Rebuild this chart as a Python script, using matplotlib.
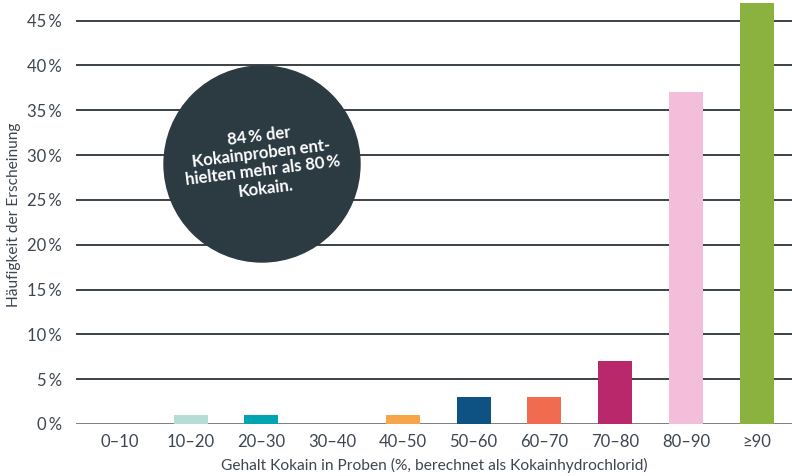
import matplotlib
matplotlib.use("Agg")
import matplotlib.pyplot as plt
from matplotlib.patches import Ellipse
import numpy as np

plt.rcParams['font.family'] = ['Lato', 'DejaVu Sans']

# Daten
categories = ["0–10", "10–20", "20–30", "30–40", "40–50",
              "50–60", "60–70", "70–80", "80–90", "≥90"]
values = [0, 1, 1, 0, 1, 3, 3, 7, 37, 47]
colors = ["#b3ddd5", "#b3ddd5", "#00a3b0", "#f6a54b", "#f6a54b",
          "#0d5282", "#f06b4f", "#b8286a", "#f2bed9", "#8bb23f"]
yticks = [0, 5, 10, 15, 20, 25, 30, 35, 40, 45]

text_col = "#3d4650"
grid_col = "#3a4148"

fig = plt.figure(figsize=(7.92, 4.76), dpi=100)
ax = fig.add_axes([76 / 792, 1 - 424 / 476, 1 - 76 / 792, 424 / 476])

x = np.arange(len(categories))
for yt in yticks:
    ax.axhline(yt, color=grid_col if yt > 0 else "#7a8086", lw=1.4, zorder=1)
ax.bar(x, values, width=0.48, color=colors, zorder=2)

ax.set_xlim(-0.62, 9.5)
ax.set_ylim(0, 47.3)
ax.set_yticks(yticks)
ax.set_yticklabels([f"{v}\u2009%" for v in yticks])
ax.set_xticks(x)
ax.set_xticklabels(categories)
ax.tick_params(length=0, labelsize=12, colors=text_col)
ax.tick_params(axis="y", pad=10)
ax.tick_params(axis="x", pad=7)
for s in ax.spines.values():
    s.set_visible(False)

ax.set_xlabel("Gehalt Kokain in Proben (%, berechnet als Kokainhydrochlorid)",
              fontsize=11.2, color=text_col, labelpad=6)
fig.text(14 / 792, 1 - 215 / 476, "Häufigkeit der Erscheinung", rotation=90,
         ha="center", va="center", fontsize=11.2, color=text_col)

# Kreis mit Hinweis
cx, cy, r = 262, 164, 98
fig.add_artist(Ellipse((cx / 792, 1 - cy / 476), 2 * r / 792, 2 * r / 476,
                       transform=fig.transFigure, color="#2c3a42", zorder=5))
fig.text(cx / 792, 1 - (cy - 2) / 476,
         "84\u2009% der\nKokainproben ent-\nhielten mehr als 80\u2009%\nKokain.",
         ha="center", va="center", ma="center", rotation=7, rotation_mode="anchor",
         color="white", fontsize=12, fontweight="bold", linespacing=1.12, zorder=6)

fig.savefig("out.png", dpi=100)
